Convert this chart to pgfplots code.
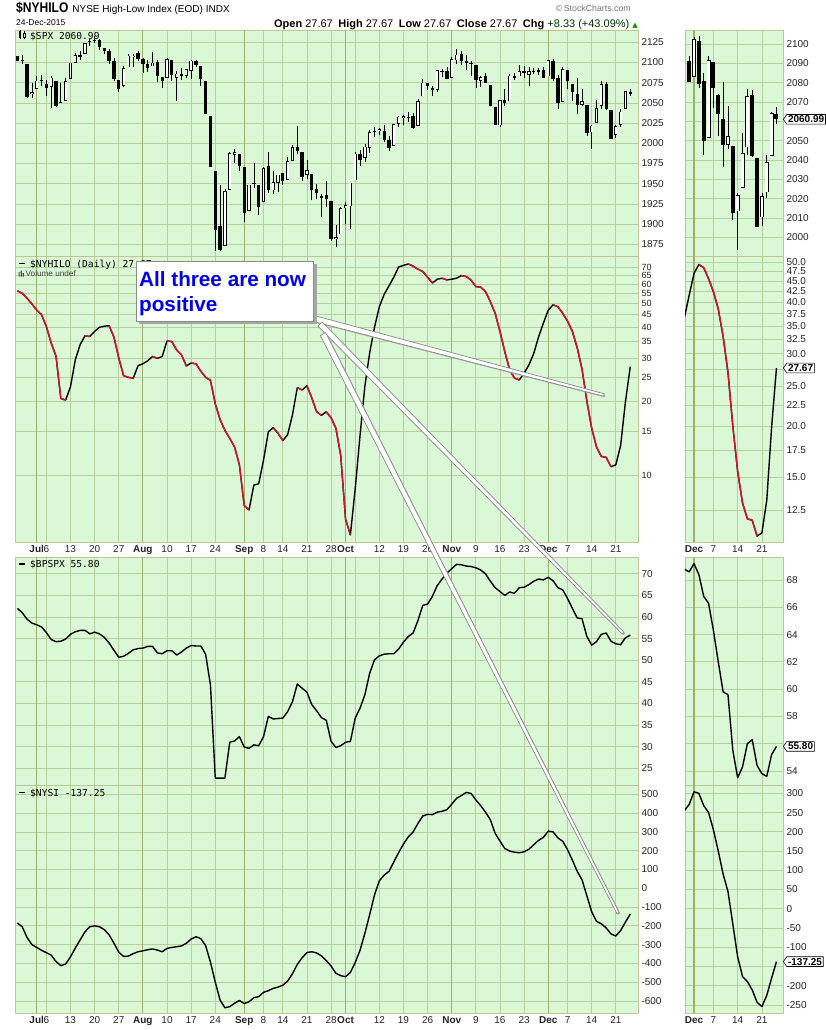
\documentclass[border=0pt]{standalone}
\usepackage{fontspec}
\setmainfont{Liberation Sans}
\newfontfamily\monof{DejaVu Sans Mono}
\newfontfamily\narrowf[FakeStretch=0.86]{Liberation Sans}
\newfontfamily\dejavu{DejaVu Sans}
\usepackage{pgfplots}
\usepackage{pgfplotstable}
\pgfplotsset{compat=1.18}
\usetikzlibrary{shapes.symbols}

\definecolor{bgG}{RGB}{218,247,214}
\definecolor{gridL}{RGB}{182,208,156}
\definecolor{gridM}{RGB}{158,176,108}
\definecolor{frameC}{RGB}{190,198,150}
\definecolor{hiRed}{RGB}{214,16,48}
\definecolor{annBlue}{RGB}{0,0,235}
\definecolor{labC}{RGB}{35,35,35}
\definecolor{callG}{RGB}{135,135,135}

\newcommand\tl{\fontsize{10}{12}\selectfont}

\pgfplotstableread{
i o h l c
0 2108.35 2108.58 2102.32 2102.31
1 2102.62 2108.92 2098.46 2101.49
2 2098.63 2098.63 2056.64 2057.64
3 2061.19 2074.28 2056.32 2063.11
4 2067.00 2082.78 2067.00 2077.42
5 2078.03 2085.06 2071.02 2076.78
6 2073.95 2078.61 2058.40 2068.76
7 2069.52 2083.74 2044.02 2081.34
8 2077.66 2077.66 2044.66 2046.68
9 2049.73 2074.28 2049.73 2051.31
10 2052.74 2081.31 2052.74 2076.62
11 2080.03 2099.88 2080.03 2099.60
12 2099.72 2111.98 2099.72 2108.95
13 2109.01 2114.14 2102.49 2107.40
14 2110.55 2124.42 2110.55 2124.29
15 2126.80 2128.91 2119.88 2126.64
16 2126.85 2132.82 2123.66 2128.28
17 2127.55 2128.49 2115.40 2119.21
18 2118.21 2118.51 2110.00 2114.15
19 2114.16 2116.87 2098.63 2102.15
20 2102.24 2106.01 2077.09 2079.65
21 2078.19 2078.19 2063.52 2067.64
22 2070.75 2095.60 2069.09 2093.25
23 2094.10 2110.60 2094.08 2108.57
24 2106.78 2110.48 2094.97 2108.63
25 2111.60 2114.24 2102.07 2103.84
26 2104.49 2105.70 2087.31 2098.04
27 2097.68 2102.51 2088.60 2093.32
28 2095.27 2112.66 2095.27 2099.84
29 2100.75 2103.32 2075.53 2083.56
30 2082.61 2082.61 2067.91 2077.57
31 2080.98 2105.35 2080.98 2104.18
32 2102.66 2102.66 2076.49 2084.07
33 2081.10 2089.06 2052.09 2086.05
34 2086.19 2092.93 2078.26 2083.39
35 2083.15 2092.45 2080.61 2091.54
36 2089.70 2102.87 2079.30 2102.44
37 2101.99 2103.47 2094.14 2096.92
38 2095.69 2096.17 2070.53 2079.61
39 2076.61 2076.61 2035.73 2035.73
40 2034.08 2034.08 1970.89 1970.89
41 1965.15 1965.15 1867.01 1893.21
42 1898.08 1948.04 1867.08 1867.61
43 1872.75 1943.09 1872.75 1940.51
44 1942.77 1989.60 1942.77 1987.66
45 1986.06 1993.48 1975.19 1988.87
46 1986.73 1986.73 1965.98 1972.18
47 1970.09 1970.09 1903.07 1913.85
48 1916.52 1948.91 1916.52 1948.86
49 1950.79 1975.01 1944.72 1951.13
50 1947.76 1947.76 1911.21 1921.22
51 1927.30 1970.42 1927.30 1969.41
52 1971.45 1988.63 1937.88 1942.04
53 1941.59 1965.29 1937.19 1952.29
54 1951.45 1961.05 1939.19 1961.05
55 1963.06 1963.06 1948.27 1953.03
56 1955.10 1983.19 1954.30 1978.09
57 1978.02 1997.26 1977.93 1995.31
58 1995.33 2020.86 1986.73 1990.20
59 1989.66 1989.66 1953.45 1958.03
60 1960.84 1979.64 1955.80 1966.97
61 1961.39 1961.39 1929.22 1942.74
62 1943.24 1949.52 1930.69 1938.76
63 1934.81 1937.17 1908.92 1932.24
64 1935.93 1952.89 1921.50 1931.34
65 1929.18 1929.18 1879.21 1881.77
66 1881.90 1899.48 1871.91 1884.09
67 1887.14 1920.53 1887.14 1920.03
68 1919.65 1927.21 1900.70 1923.82
69 1921.77 1951.36 1893.70 1951.36
70 1954.33 1989.17 1954.33 1987.05
71 1986.63 1991.62 1971.99 1979.92
72 1982.34 1999.31 1976.44 1995.83
73 1994.01 2016.50 1987.53 2013.43
74 2013.73 2020.13 2007.61 2014.89
75 2015.65 2018.66 2010.55 2017.46
76 2015.00 2022.34 2001.78 2003.69
77 2003.66 2009.56 1990.73 1994.24
78 1996.47 2024.15 1996.47 2023.86
79 2024.37 2033.54 2020.46 2033.11
80 2031.73 2034.45 2022.31 2033.66
81 2033.13 2039.12 2026.61 2030.77
82 2033.47 2037.97 2017.22 2018.94
83 2021.88 2055.20 2021.88 2052.51
84 2058.19 2079.74 2058.19 2075.15
85 2075.08 2075.14 2066.53 2071.18
86 2068.75 2070.37 2058.84 2065.89
87 2066.48 2090.35 2063.11 2090.35
88 2088.35 2092.52 2082.63 2089.41
89 2090.00 2094.32 2079.34 2079.36
90 2080.76 2106.20 2080.76 2104.05
91 2102.63 2116.48 2097.51 2109.79
92 2110.60 2114.59 2096.98 2102.31
93 2101.68 2108.78 2090.41 2099.93
94 2098.60 2101.91 2083.74 2099.20
95 2096.56 2096.56 2068.24 2078.58
96 2077.19 2083.67 2069.91 2081.72
97 2083.41 2086.94 2074.85 2075.00
98 2072.29 2072.29 2045.66 2045.97
99 2044.64 2044.64 2022.02 2023.04
100 2022.08 2053.22 2019.94 2053.19
101 2053.67 2066.69 2045.90 2050.44
102 2051.99 2085.31 2051.99 2083.58
103 2083.70 2086.74 2078.76 2081.24
104 2082.82 2097.06 2082.82 2089.17
105 2089.41 2095.61 2081.39 2086.59
106 2084.42 2094.12 2070.29 2089.14
107 2089.30 2093.00 2086.30 2088.87
108 2088.82 2093.29 2084.13 2090.11
109 2090.95 2093.81 2080.41 2080.41
110 2082.93 2103.37 2082.93 2102.63
111 2101.71 2104.27 2077.11 2079.51
112 2080.71 2085.00 2042.35 2049.62
113 2051.24 2093.84 2051.24 2091.69
114 2090.42 2090.42 2066.78 2077.07
115 2073.39 2073.85 2052.32 2063.59
116 2061.17 2080.33 2036.53 2047.62
117 2047.93 2067.65 2045.67 2052.23
118 2047.27 2047.27 2008.80 2012.37
119 2013.37 2022.92 1993.26 2021.94
120 2025.55 2053.87 2025.55 2043.41
121 2046.50 2076.72 2042.43 2073.07
122 2073.76 2076.37 2041.66 2041.89
123 2040.81 2040.81 2005.33 2005.55
124 2010.27 2022.90 2005.93 2021.15
125 2023.15 2042.74 2020.49 2038.97
126 2042.20 2064.73 2042.20 2064.29
127 2063.52 2067.36 2058.73 2060.99
}\spx

\pgfplotstableread{
i v
0 56.3
1 55.0
2 52.5
3 49.8
4 47.0
5 45.0
6 40.3
7 34.5
8 30.5
9 20.5
10 20.2
11 22.9
12 29.5
13 34.0
14 36.9
15 36.7
16 38.5
17 40.0
18 40.4
19 40.6
20 36.5
21 30.0
22 25.4
23 25.0
24 24.8
25 27.9
26 28.4
27 29.2
28 30.4
29 29.9
30 30.4
31 35.2
32 35.0
33 32.3
34 30.9
35 27.8
36 28.6
37 28.4
38 26.5
39 25.0
40 24.3
41 19.5
42 16.8
43 15.2
44 14.1
45 13.0
46 11.0
47 7.5
48 7.2
49 9.1
50 9.2
51 11.5
52 15.0
53 15.6
54 14.8
55 13.8
56 14.6
57 17.6
58 22.7
59 22.2
60 23.1
61 20.6
62 18.1
63 17.5
64 18.1
65 17.1
66 15.5
67 12.0
68 6.6
69 5.7
70 8.8
71 14.5
72 23.0
73 31.5
74 40.0
75 48.5
76 54.5
77 59.0
78 64.0
79 70.5
80 71.5
81 72.5
82 71.0
83 69.0
84 67.5
85 64.0
86 60.6
87 62.8
88 63.4
89 62.4
90 62.8
91 63.4
92 65.0
93 64.4
94 62.3
95 58.6
96 58.3
97 55.9
98 50.9
99 45.6
100 38.4
101 31.8
102 26.8
103 24.8
104 24.4
105 26.0
106 28.1
107 31.3
108 36.6
109 41.6
110 47.0
111 49.4
112 48.5
113 45.6
114 42.4
115 38.5
116 33.0
117 27.0
118 20.0
119 15.5
120 13.0
121 11.9
122 11.8
123 10.8
124 11.0
125 13.2
126 19.9
127 27.67
}\hilo

\pgfplotstableread{
i v
0 56.3
1 55.0
2 52.5
3 49.8
4 47.0
5 45.0
6 40.3
7 34.5
8 30.5
9 20.5
10 20.2
10.5 nan
14 36.9
15 36.7
15.5 nan
19 40.6
20 36.5
21 30.0
22 25.4
23 25.0
24 24.8
24.5 nan
28 30.4
29 29.9
29.5 nan
31 35.2
32 35.0
33 32.3
34 30.9
35 27.8
35.5 nan
36 28.6
37 28.4
38 26.5
39 25.0
40 24.3
41 19.5
42 16.8
43 15.2
44 14.1
45 13.0
46 11.0
47 7.5
48 7.2
48.5 nan
53 15.6
54 14.8
55 13.8
55.5 nan
58 22.7
59 22.2
59.5 nan
60 23.1
61 20.6
62 18.1
63 17.5
63.5 nan
64 18.1
65 17.1
66 15.5
67 12.0
68 6.6
69 5.7
69.5 nan
81 72.5
82 71.0
83 69.0
84 67.5
85 64.0
86 60.6
86.5 nan
88 63.4
89 62.4
89.5 nan
92 65.0
93 64.4
94 62.3
95 58.6
96 58.3
97 55.9
98 50.9
99 45.6
100 38.4
101 31.8
102 26.8
103 24.8
104 24.4
104.5 nan
111 49.4
112 48.5
113 45.6
114 42.4
115 38.5
116 33.0
117 27.0
118 20.0
119 15.5
120 13.0
121 11.9
122 11.8
123 10.8
}\hilored

\pgfplotstableread{
i v
0 62.0
1 61.0
2 59.5
3 58.6
4 58.2
5 57.7
6 56.4
7 54.8
8 54.3
9 54.4
10 54.9
11 56.0
12 56.6
13 56.9
14 56.9
15 56.1
16 56.5
17 56.1
18 55.3
19 54.0
20 52.3
21 50.7
22 50.9
23 51.6
24 52.4
25 52.7
26 52.8
27 53.2
28 53.2
29 51.7
30 51.5
31 52.2
32 52.2
33 51.2
34 51.9
35 52.8
36 53.4
37 53.3
38 53.3
39 51.4
40 44.3
41 22.7
42 22.7
43 22.7
44 31.0
45 31.3
46 32.3
47 29.9
48 29.6
49 30.4
50 30.2
51 32.3
52 37.0
53 36.4
54 36.5
55 36.6
56 38.1
57 40.4
58 44.5
59 43.5
60 42.6
61 39.7
62 38.3
63 36.7
64 36.1
65 31.2
66 29.8
67 30.2
68 31.0
69 31.2
70 36.6
71 38.9
72 42.0
73 47.0
74 50.1
75 51.0
76 51.4
77 51.5
78 51.5
79 52.6
80 54.2
81 55.5
82 56.3
83 59.2
84 62.7
85 63.0
86 64.8
87 67.3
88 68.8
89 70.2
90 71.2
91 72.2
92 72.1
93 71.8
94 71.7
95 71.4
96 70.9
97 70.0
98 68.3
99 66.8
100 65.9
101 65.0
102 65.8
103 65.5
104 66.8
105 66.9
106 67.5
107 68.3
108 68.8
109 68.6
110 69.2
111 68.4
112 66.8
113 66.3
114 64.3
115 62.0
116 59.8
117 59.6
118 55.5
119 53.5
120 54.3
121 56.0
122 56.3
123 54.4
124 53.8
125 53.6
126 55.2
127 55.8
}\bpspx

\pgfplotstableread{
i v
0 -185
1 -205
2 -262
3 -300
4 -315
5 -330
6 -343
7 -356
8 -390
9 -412
10 -403
11 -365
12 -318
13 -275
14 -232
15 -205
16 -200
17 -205
18 -220
19 -248
20 -292
21 -340
22 -363
23 -361
24 -348
25 -338
26 -333
27 -327
28 -323
29 -329
30 -338
31 -320
32 -315
33 -311
34 -307
35 -293
36 -270
37 -258
38 -268
39 -305
40 -393
41 -500
42 -595
43 -636
44 -630
45 -612
46 -597
47 -614
48 -604
49 -582
50 -577
51 -554
52 -545
53 -533
54 -526
55 -516
56 -494
57 -455
58 -405
59 -370
60 -342
61 -338
62 -344
63 -360
64 -385
65 -414
66 -453
67 -465
68 -471
69 -448
70 -395
71 -330
72 -240
73 -140
74 -35
75 40
76 70
77 90
78 140
79 190
80 235
81 274
82 300
83 345
84 385
85 393
86 392
87 405
88 410
89 418
90 447
91 479
92 493
93 510
94 505
95 470
96 440
97 405
98 365
99 292
100 251
101 212
102 198
103 192
104 189
105 194
106 208
107 232
108 255
109 271
110 304
111 300
112 268
113 250
114 205
115 150
116 90
117 45
118 -40
119 -125
120 -176
121 -189
122 -211
123 -243
124 -254
125 -225
126 -180
127 -137.25
}\nysi

\pgfplotsset{
  panel/.style={scale only axis, anchor=north west,
    axis background/.style={fill=bgG},
    axis line style={draw=frameC, line width=0.7pt},
    major tick length=0pt, minor tick length=0pt,
    xmajorgrids=true, ymajorgrids=true,
    major grid style={draw=gridL, line width=0.75pt},
    yticklabel pos=right,
    tick label style={font=\tl, text=labC},
    /pgf/number format/assume math mode=true,
    /pgf/number format/1000 sep={},
    extra x tick style={grid=major, major grid style={draw=gridM, line width=1.2pt},
      xticklabel style={font=\tl\bfseries}},
  },
  leftx/.style={xmin=-0.5, xmax=128.6, width=623pt,
    xtick={6,11,16,21,31,36,41,51,55,60,65,70,75,80,85,95,100,105,114,119,124},
    extra x ticks={4,26,47,68,90,110}},
  leftlab/.style={xticklabels={6,13,20,27,10,17,24,8,14,21,28,,12,19,26,9,16,23,7,14,21},
    extra x tick labels={Jul,Aug,Sep,Oct,Nov,Dec}},
  rightx/.style={xmin=108.14, xmax=128.35, width=98pt,
    xtick={114,119,124}, extra x ticks={110}},
  rightlab/.style={xticklabels={7,14,21}, extra x tick labels={Dec}},
  nolab/.style={xticklabels={}, extra x tick labels={}},
  ln/.style={line width=1.4pt, black, line join=round, mark=none},
}
\tikzset{pricelab/.style={signal, signal to=west, signal pointer angle=110, draw=black,
   fill=white, line width=0.6pt, inner sep=1.3pt, anchor=west, font=\tl\bfseries}}

\newcommand\candles[4]{%
 \addplot[draw=none, mark=none, forget plot, restrict x to domain=#4,
   error bars/.cd, y dir=plus, y explicit, error mark=none,
   error bar style={draw=black, line width=0.7pt}]
   table[x=i, y=l, y error plus expr=\thisrow{h}-\thisrow{l}] {\spx};
 \addplot[draw=none, mark=none, forget plot, restrict x to domain=#4,
   restrict expr to domain={\thisrow{c}-\thisrow{o}}{-1000:-0.001},
   error bars/.cd, y dir=plus, y explicit, error mark=none,
   error bar style={draw=black, line width=#1}]
   table[x=i, y=c, y error plus expr=\thisrow{o}-\thisrow{c}] {\spx};
 \addplot[draw=none, mark=none, forget plot, restrict x to domain=#4,
   restrict expr to domain={\thisrow{c}-\thisrow{o}}{0:1000},
   error bars/.cd, y dir=plus, y explicit, error mark=none,
   error bar style={draw=black, line width=#1}]
   table[x=i, y=o, y error plus expr={max(\thisrow{c}-\thisrow{o},0.5)}] {\spx};
 \addplot[draw=none, mark=none, forget plot, restrict x to domain=#4,
   restrict expr to domain={\thisrow{c}-\thisrow{o}}{0:1000},
   error bars/.cd, y dir=plus, y explicit, error mark=none,
   error bar style={draw=white, line width=#2}]
   table[x=i, y expr=\thisrow{o}+#3, y error plus expr={max(\thisrow{c}-\thisrow{o}-2*#3,0)}] {\spx};
}

\begin{document}
\begin{tikzpicture}
\useasboundingbox (0pt,0pt) rectangle (826pt,-1030pt);

% ---------- SPX ----------
\begin{axis}[panel, leftx, nolab, at={(15pt,-30pt)}, height=226pt,
  ymin=1860.5, ymax=2140.2, ytick={1875,1900,...,2125}]
\candles{3.3pt}{1.9pt}{0.85}{-10:200}
\end{axis}
\begin{axis}[panel, rightx, nolab, at={(685pt,-30pt)}, height=226pt,
  ymin=1990.3, ymax=2107.2, ytick={2000,2010,...,2100},
  yticklabels={2000,2010,2020,2030,2040,2050,,2070,2080,2090,2100}]
\candles{4pt}{2.6pt}{0.36}{108.5:200}
\coordinate (labA) at (axis cs:128.35,2060.99);
\end{axis}

% ---------- NYHILO ----------
\begin{axis}[panel, leftx, leftlab, at={(15pt,-256pt)}, height=286pt, ymode=log,
  ymin=5.33, ymax=78.1, ytick={10,15,20,25,30,35,40,45,50,55,60,65,70},
  yticklabels={10,15,20,25,30,35,40,45,50,55,60,65,70}, unbounded coords=jump,
  yticklabel style={font=\fontsize{9}{10}\selectfont}]
\addplot[ln] table[x=i,y=v]{\hilo};
\addplot[ln, hiRed] table[x=i,y=v]{\hilored};
\end{axis}
\begin{axis}[panel, rightx, rightlab, at={(685pt,-256pt)}, height=286pt, ymode=log,
  ymin=10.45, ymax=51.8,
  ytick={12.5,15,17.5,20,22.5,25,27.5,30,32.5,35,37.5,40,42.5,45,47.5,50},
  yticklabels={12.5,15.0,17.5,20.0,22.5,25.0,,30.0,32.5,35.0,37.5,40.0,42.5,45.0,47.5,50.0},
  unbounded coords=jump]
\addplot[ln] table[x=i,y=v]{\hilo};
\addplot[ln, hiRed] table[x=i,y=v]{\hilored};
\coordinate (labB) at (axis cs:128.35,27.67);
\end{axis}

% ---------- BPSPX ----------
\begin{axis}[panel, leftx, nolab, at={(15pt,-557pt)}, height=228pt,
  ymin=21.1, ymax=73.9, ytick={25,30,...,70}]
\addplot[ln] table[x=i,y=v]{\bpspx};
\end{axis}
\begin{axis}[panel, rightx, nolab, at={(685pt,-557pt)}, height=228pt,
  ymin=52.97, ymax=69.69, ytick={54,56,...,68},
  yticklabels={54,,58,60,62,64,66,68}]
\addplot[ln] table[x=i,y=v]{\bpspx};
\coordinate (labC) at (axis cs:128.35,55.80);
\end{axis}

% ---------- NYSI ----------
\begin{axis}[panel, leftx, leftlab, at={(15pt,-785pt)}, height=228pt,
  ymin=-663.9, ymax=549.5, ytick={-600,-500,...,500}]
\addplot[ln] table[x=i,y=v]{\nysi};
\end{axis}
\begin{axis}[panel, rightx, rightlab, at={(685pt,-785pt)}, height=228pt,
  ymin=-270.8, ymax=321.6, ytick={-250,-200,...,300},
  yticklabels={-250,-200,,-100,-50,0,50,100,150,200,250,300}]
\addplot[ln] table[x=i,y=v]{\nysi};
\coordinate (labD) at (axis cs:128.35,-137.25);
\end{axis}

\node[pricelab] at (labA) {2060.99};
\node[pricelab] at (labB) {27.67};
\node[pricelab] at (labC) {55.80};
\node[pricelab] at (labD) {-137.25};

\begin{scope}[x=1pt,y=1pt]
% header
\node[anchor=base west, inner sep=0] at (16,-13)
  {{\fontsize{14}{14}\selectfont\narrowf\bfseries \$NYHILO}\hspace{4pt}{\fontsize{10}{12}\selectfont NYSE High-Low Index (EOD)\hspace{3pt}INDX}};
\node[anchor=base west, inner sep=0] at (16,-25.5) {\fontsize{8.5}{10}\selectfont 24-Dec-2015};
\node[anchor=base east, inner sep=0, text=black!55] at (631,-12) {\fontsize{8.8}{10}\selectfont\textcopyright\,StockCharts.com};
\node[anchor=base east, inner sep=0] at (638,-28) {\fontsize{11}{12}\selectfont
  \textbf{Open} 27.67\enspace\textbf{High} 27.67\enspace\textbf{Low} 27.67\enspace\textbf{Close} 27.67\enspace\textbf{Chg} {\color{black!80!green}+8.33 (+43.09\%)} {\dejavu\fontsize{7}{8}\selectfont\color{green!60!black}▲}};

% panel legends
\fill[black] (18.5,-31.5) rectangle (21,-38.5);
\draw[line width=0.5] (19.75,-30.5) -- (19.75,-39.5);
\draw[fill=white, line width=0.6] (23,-33) rectangle (25.5,-37.5);
\draw[line width=0.5] (24.25,-31.5) -- (24.25,-33) (24.25,-37.5) -- (24.25,-39);
\node[anchor=base west, inner sep=0] at (30,-39.3) {\monof\fontsize{9.6}{11}\selectfont \$SPX 2060.99};

\draw[line width=1.6] (18.5,-263.6) -- (25,-263.6);
\node[anchor=base west, inner sep=0] at (30,-267.3) {\monof\fontsize{9.6}{11}\selectfont \$NYHILO (Daily) 27.67};
\fill[black!70] (18.5,-276.5) rectangle (19.7,-272) (20.6,-276.5) rectangle (21.8,-270.5) (22.7,-276.5) rectangle (23.9,-273);
\node[anchor=base west, inner sep=0] at (25.5,-276.6) {\fontsize{8.2}{10}\selectfont\color{black!75}Volume undef};

\draw[line width=1.6] (18.5,-563.8) -- (25,-563.8);
\node[anchor=base west, inner sep=0] at (30,-567.5) {\monof\fontsize{9.6}{11}\selectfont \$BPSPX 55.80};
\draw[line width=1.6] (18.5,-792.3) -- (25,-792.3);
\node[anchor=base west, inner sep=0] at (30,-796) {\monof\fontsize{9.6}{11}\selectfont \$NYSI -137.25};

% callout lines
\foreach \p in {
 {(312.8,-315.1) -- (604.3,-393.8) -- (603.7,-396.2) -- (311.2,-320.9) -- cycle},
 {(322.1,-321.9) -- (623.9,-632.1) -- (622.1,-633.9) -- (317.9,-326.1) -- cycle},
 {(325.7,-332.6) -- (619.1,-912.4) -- (616.9,-913.6) -- (320.3,-335.4) -- cycle}}
 {\path[fill=black!30, shift={(1.2,-1.2)}] \p; }
\foreach \p in {
 {(312.8,-315.1) -- (604.3,-393.8) -- (603.7,-396.2) -- (311.2,-320.9) -- cycle},
 {(322.1,-321.9) -- (623.9,-632.1) -- (622.1,-633.9) -- (317.9,-326.1) -- cycle},
 {(325.7,-332.6) -- (619.1,-912.4) -- (616.9,-913.6) -- (320.3,-335.4) -- cycle}}
 {\path[fill=white, draw=callG, line width=0.7pt, line join=round] \p; }

% annotation box
\fill[black!35] (139,-264) rectangle (316.5,-324);
\draw[fill=white, draw=black!45, line width=0.6pt] (136,-261) rectangle (313,-321);
\node[anchor=base west, inner sep=0, text=annBlue] at (139,-286.5) {\fontsize{20.7}{24}\selectfont\bfseries All three are now};
\node[anchor=base west, inner sep=0, text=annBlue] at (139,-311.5) {\fontsize{20.7}{24}\selectfont\bfseries positive};
\end{scope}
\end{tikzpicture}
\end{document}
